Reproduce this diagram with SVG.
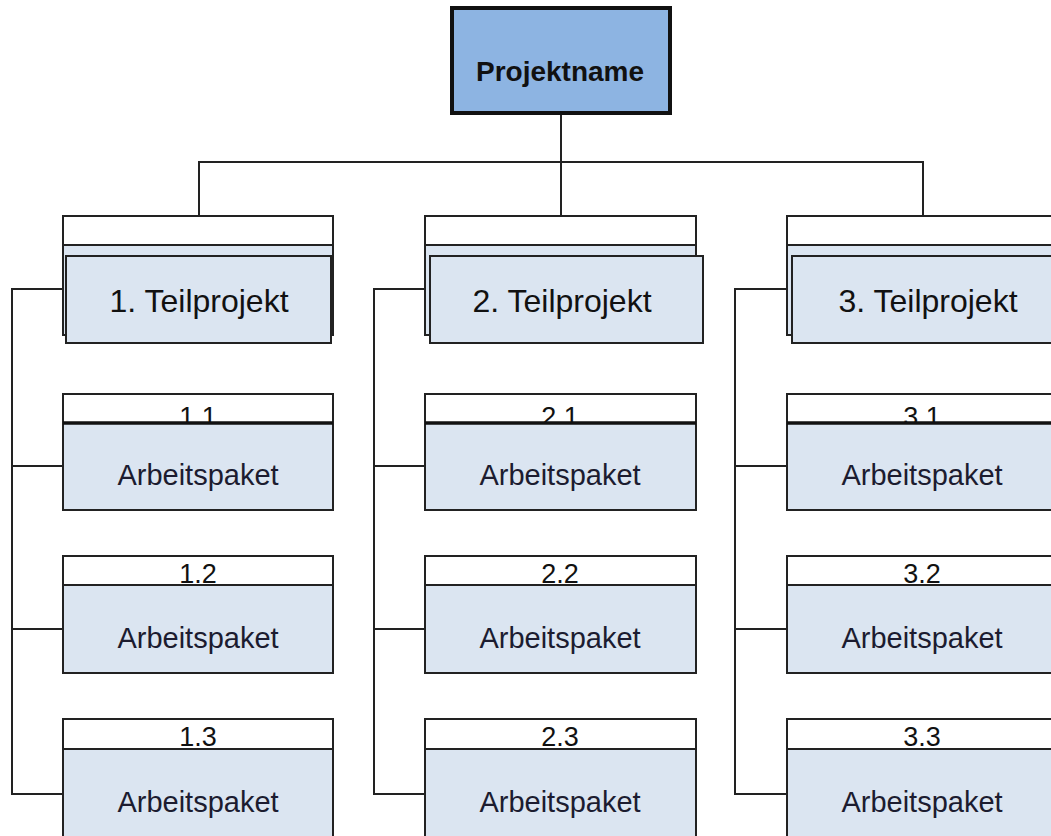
<svg xmlns="http://www.w3.org/2000/svg" width="1051" height="836" viewBox="0 0 1051 836">
<style>
.ln{fill:none;stroke:#222;stroke-width:2}
.hdr{fill:#fff;stroke:#222;stroke-width:2}
.body{fill:#dbe5f1;stroke:#222;stroke-width:2}
.tp{font-family:"Liberation Sans",Arial,sans-serif;font-size:32px;fill:#111;text-anchor:middle}
.ap{font-family:"Liberation Sans",Arial,sans-serif;font-size:29px;fill:#1c1c30;text-anchor:middle}
.num{font-family:"Liberation Sans",Arial,sans-serif;font-size:27px;fill:#111;text-anchor:middle}
</style>
<rect width="1051" height="836" fill="#fff"/>
<g id="connectors" class="ln">
<path d="M561,114 V162 M199,216 V162 H923 V216 M561,162 V216"/>
<path d="M63,289 H12 V794 H63 M12,466 H63 M12,629 H63"/>
<path d="M425,289 H374 V794 H425 M374,466 H425 M374,629 H425"/>
<path d="M787,289 H735 V794 H787 M735,466 H787 M735,629 H787"/>
</g>
<g id="projektname">
<rect x="452" y="8" width="218" height="105" fill="#8db4e2" stroke="#111" stroke-width="4"/>
<text x="560" y="81" font-family="'Liberation Sans',Arial,sans-serif" font-size="28" font-weight="bold" fill="#111" text-anchor="middle">Projektname</text>
</g>
<g id="tp1">
<rect x="63" y="216" width="270" height="119" class="body"/>
<rect x="63" y="216" width="270" height="29" class="hdr"/>
<rect x="66" y="256" width="265" height="87" class="body"/>
<text x="199" y="312" class="tp">1. Teilprojekt</text>
</g>
<g id="tp2">
<rect x="425" y="216" width="271" height="119" class="body"/>
<rect x="425" y="216" width="271" height="29" class="hdr"/>
<rect x="430" y="256" width="273" height="87" class="body"/>
<text x="562" y="312" class="tp">2. Teilprojekt</text>
</g>
<g id="tp3">
<rect x="787" y="216" width="280" height="119" class="body"/>
<rect x="787" y="216" width="280" height="29" class="hdr"/>
<rect x="792" y="256" width="275" height="87" class="body"/>
<text x="928" y="312" class="tp">3. Teilprojekt</text>
</g>
<g id="ap11">
<rect x="63" y="394" width="270" height="29" class="hdr"/>
<text x="198" y="426" class="num">1.1</text>
<rect x="63" y="423" width="270" height="87" class="body"/>
<line x1="63" y1="423" x2="333" y2="423" stroke="#111" stroke-width="3.5"/>
<text x="198" y="485" class="ap">Arbeitspaket</text>
</g>
<g id="ap12">
<rect x="63" y="556" width="270" height="29" class="hdr"/>
<text x="198" y="583" class="num">1.2</text>
<rect x="63" y="585" width="270" height="88" class="body"/>
<text x="198" y="648" class="ap">Arbeitspaket</text>
</g>
<g id="ap13">
<rect x="63" y="719" width="270" height="30" class="hdr"/>
<text x="198" y="746" class="num">1.3</text>
<rect x="63" y="749" width="270" height="100" class="body"/>
<text x="198" y="812" class="ap">Arbeitspaket</text>
</g>
<g id="ap21">
<rect x="425" y="394" width="271" height="29" class="hdr"/>
<text x="560" y="426" class="num">2.1</text>
<rect x="425" y="423" width="271" height="87" class="body"/>
<line x1="425" y1="423" x2="696" y2="423" stroke="#111" stroke-width="3.5"/>
<text x="560" y="485" class="ap">Arbeitspaket</text>
</g>
<g id="ap22">
<rect x="425" y="556" width="271" height="29" class="hdr"/>
<text x="560" y="583" class="num">2.2</text>
<rect x="425" y="585" width="271" height="88" class="body"/>
<text x="560" y="648" class="ap">Arbeitspaket</text>
</g>
<g id="ap23">
<rect x="425" y="719" width="271" height="30" class="hdr"/>
<text x="560" y="746" class="num">2.3</text>
<rect x="425" y="749" width="271" height="100" class="body"/>
<text x="560" y="812" class="ap">Arbeitspaket</text>
</g>
<g id="ap31">
<rect x="787" y="394" width="280" height="29" class="hdr"/>
<text x="922" y="426" class="num">3.1</text>
<rect x="787" y="423" width="280" height="87" class="body"/>
<line x1="787" y1="423" x2="1067" y2="423" stroke="#111" stroke-width="3.5"/>
<text x="922" y="485" class="ap">Arbeitspaket</text>
</g>
<g id="ap32">
<rect x="787" y="556" width="280" height="29" class="hdr"/>
<text x="922" y="583" class="num">3.2</text>
<rect x="787" y="585" width="280" height="88" class="body"/>
<text x="922" y="648" class="ap">Arbeitspaket</text>
</g>
<g id="ap33">
<rect x="787" y="719" width="280" height="30" class="hdr"/>
<text x="922" y="746" class="num">3.3</text>
<rect x="787" y="749" width="280" height="100" class="body"/>
<text x="922" y="812" class="ap">Arbeitspaket</text>
</g>
</svg>
